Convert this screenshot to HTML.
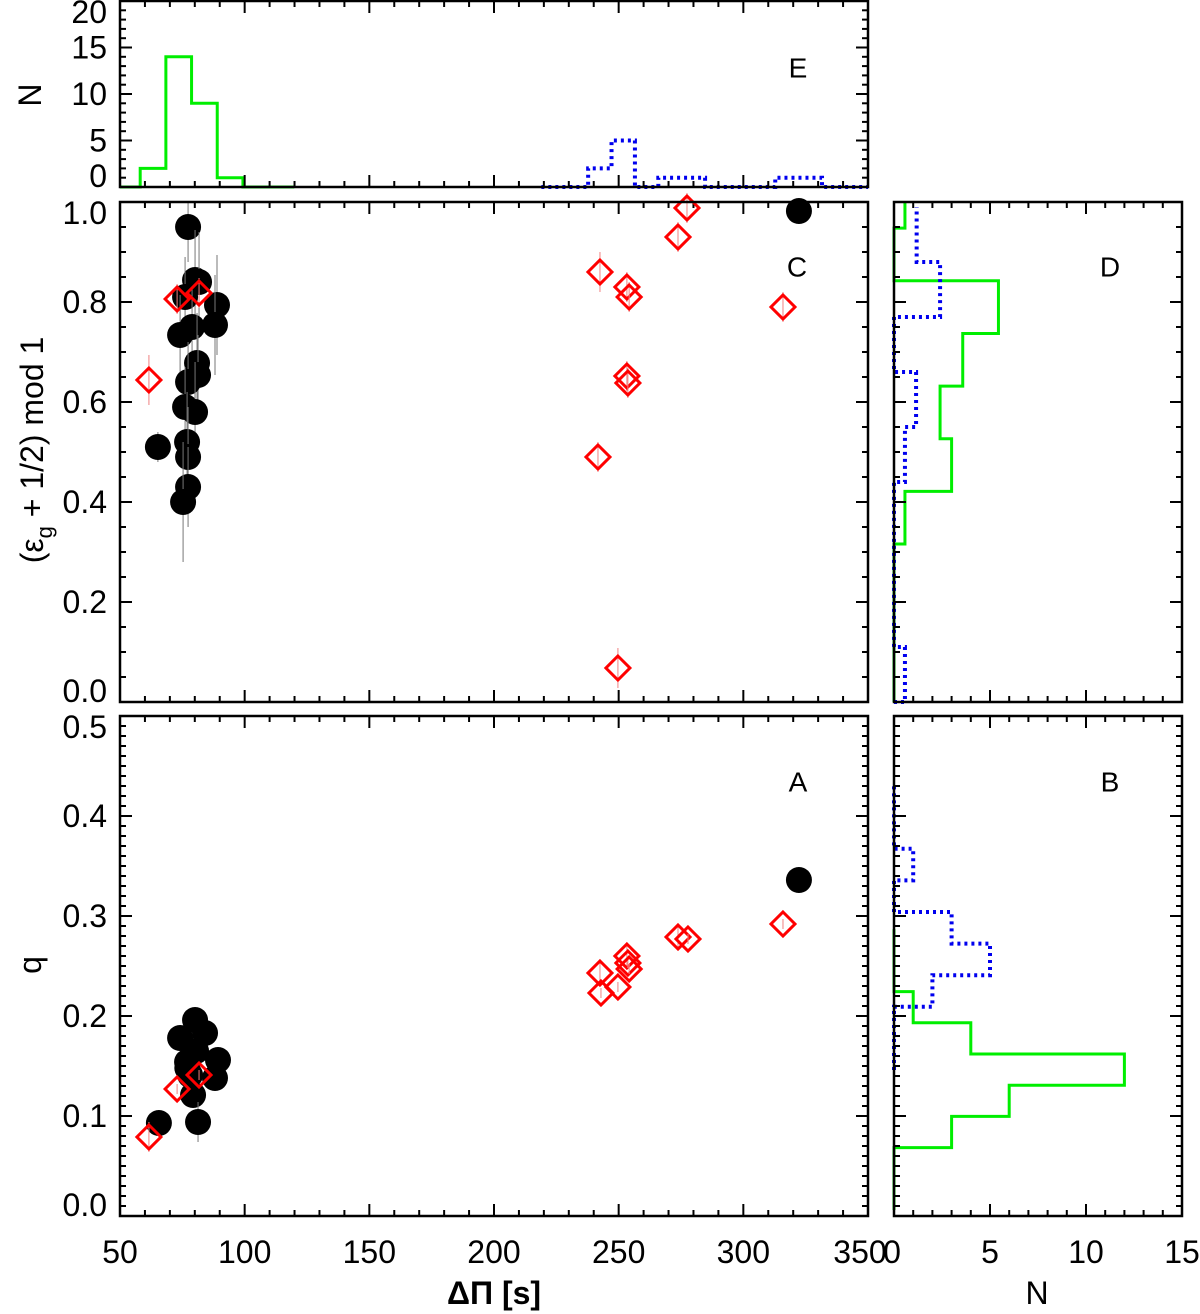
<!DOCTYPE html>
<html><head><meta charset="utf-8"><style>
html,body{margin:0;padding:0;background:#fff;}
svg{display:block;font-family:"Liberation Sans",sans-serif;}
</style></head><body>
<svg id="c" width="1200" height="1314" viewBox="0 0 1200 1314" xmlns="http://www.w3.org/2000/svg"></svg>
<script>
// ---- data ----
const blackCX=[77.3,80.1,81.7,76.1,88.9,88.1,78.9,74.1,80.9,81.3,77.3,76.1,80.1,65.2,76.9,77.3,77.3,75.3,322.3];
const blackCY=[0.950,0.844,0.840,0.810,0.794,0.754,0.750,0.734,0.678,0.654,0.640,0.590,0.580,0.510,0.520,0.490,0.430,0.400,0.982];
const blackCErr=[0.07,0.10,0.10,0.08,0.10,0.10,0.08,0.08,0.10,0.08,0.08,0.08,0.10,0.03,0.10,0.10,0.08,0.12,0.02];
const redCX=[72.9,81.7,61.6,242.5,253.3,254.2,253.3,253.7,241.7,249.7,273.8,277.4,315.9];
const redCY=[0.806,0.818,0.644,0.860,0.830,0.810,0.652,0.638,0.490,0.068,0.930,0.988,0.790];
const redCErr=[0.03,0.03,0.05,0.04,0.03,0.03,0.03,0.03,0.03,0.04,0.03,0.03,0.03];
const blackAX=[80.1,84.1,74.1,89.3,88.1,76.9,78.1,79.3,81.3,65.6,322.3,80.5,77];
const blackAY=[0.196,0.183,0.178,0.156,0.138,0.154,0.141,0.121,0.094,0.093,0.336,0.165,0.148];
const blackAErr=[0.01,0.01,0.01,0.01,0.01,0.01,0.01,0.01,0.02,0.01,0.01,0.01,0.01];
const redAX=[72.9,81.7,61.6,242.5,242.9,249.7,253.3,253.7,254.2,273.8,277.8,315.9];
const redAY=[0.127,0.141,0.079,0.243,0.223,0.229,0.260,0.253,0.247,0.279,0.277,0.292];
const redAErr=[0.005,0.005,0.015,0.01,0.005,0.005,0.01,0.005,0.005,0.01,0.005,0.005];
// histogram E (x = ΔΠ)
const greenEStart=47.8, greenEWidth=10.3;
const greenECounts=[0,2,14,9,1,0,0];
const blueEStart=219, blueEWidth=9.38;
const blueECounts=[0,0,2,5,0,1,1,0,0,0,1,1,0,0];
// histogram D (y = eps)
const greenDStart=0, greenDWidth=0.1053;
const greenDCounts=[0,0,0,0.57,3.0,2.4,3.58,5.44,0,0.57];
const blueDStart=0, blueDWidth=0.11;
const blueDCounts=[0.57,0,0,0,0.57,1.15,0,2.4,1.18];
// histogram B (y = q)
const greenBStart=0.006, greenBWidth=0.0312;
const greenBCounts=[0,0,3,6,12,4,1,0,0];
const blueBStart=0.146, blueBWidth=0.0316;
const blueBCounts=[0,0,2,5,3,0,1,0,0];
const xTicks=[50,100,150,200,250,300,350];
const nTicks=[0,5,10,15];

// ---- layout ----
const NS="http://www.w3.org/2000/svg";
const svg=document.getElementById('c');
const L=120,R=868,RL=894,RR=1182;
const E={t:1,b:187},C={t:202,b:702},A={t:716,b:1216};
const sx=v=>L+(v-50)*(R-L)/300;
const snx=v=>RL+v*(RR-RL)/15;
const syE=v=>E.b-v*(E.b-E.t)/20;
const syC=v=>C.b-v*(C.b-C.t);
const syA=v=>A.b-v*(A.b-A.t)/0.5;
function el(tag,attrs,parent){const e=document.createElementNS(NS,tag);for(const k in attrs)e.setAttribute(k,attrs[k]);(parent||svg).appendChild(e);return e;}
function text(x,y,s,opts){const t=el('text',Object.assign({x:x,y:y,'font-size':32,fill:'#000','text-anchor':'middle','dominant-baseline':'central'},opts||{}));t.textContent=s;return t;}
function g(name){const e=el('g',{});return e;}

function frame(name,x0,x1,y0,y1){const f=el('rect',{x:x0,y:y0,width:x1-x0,height:y1-y0,fill:'none',stroke:'#000','stroke-width':2.5});}
function xticks(grp,x0,x1,y0,y1,min,max,maj,mnr,fx){
  for(let v=min;v<=max+1e-9;v+=mnr){const x=fx(v);const isM=Math.abs(v/maj-Math.round(v/maj))<1e-6;const len=isM?12:6;
    el('line',{x1:x,x2:x,y1:y1,y2:y1-len,stroke:'#000','stroke-width':2},grp);
    el('line',{x1:x,x2:x,y1:y0,y2:y0+len,stroke:'#000','stroke-width':2},grp);}
}
function yticks(grp,x0,x1,min,max,maj,mnr,fy){
  for(let v=min;v<=max+1e-9;v+=mnr){const y=fy(v);const isM=Math.abs(v/maj-Math.round(v/maj))<1e-6;const len=isM?12:6;
    el('line',{x1:x0,x2:x0+len,y1:y,y2:y,stroke:'#000','stroke-width':2},grp);
    el('line',{x1:x1,x2:x1-len,y1:y,y2:y,stroke:'#000','stroke-width':2},grp);}
}
function ylabels(grp,vals,fy,fmt,t,b){vals.forEach(v=>{let y=fy(v);y=Math.max(t+11,Math.min(b-11,y));const tx=text(107,y,fmt(v),{'text-anchor':'end'});grp.appendChild(tx);});}

function stepX(grp,start,w,counts,fx,fy,color,dash,name){
  let d='M'+fx(Math.max(start,50))+','+fy(0);
  counts.forEach((c,i)=>{let a=start+i*w,b=start+(i+1)*w;a=Math.max(a,50);b=Math.min(b,350);d+=' L'+fx(a)+','+fy(c)+' L'+fx(b)+','+fy(c);});
  const p=el('path',{d:d,fill:'none',stroke:color,'stroke-width':dash?4:3,'stroke-dasharray':dash||'none'},grp);
  
}
function stepY(grp,start,w,counts,fy,maxv,color,dash,name){
  let d='M'+snx(0)+','+fy(start);
  counts.forEach((c,i)=>{let a=start+i*w,b=Math.min(start+(i+1)*w,maxv);d+=' L'+snx(c)+','+fy(a)+' L'+snx(c)+','+fy(b);});
  const p=el('path',{d:d,fill:'none',stroke:color,'stroke-width':dash?4:3,'stroke-dasharray':dash||'none'},grp);
  
}
function circles(grp,xs,ys,errs,fy,lo,hi,name){
  xs.forEach((x,i)=>{const cx=sx(x),cy=fy(ys[i]);
    el('line',{x1:cx,x2:cx,y1:fy(Math.max(lo,ys[i]-errs[i])),y2:fy(Math.min(hi,ys[i]+errs[i])),stroke:'#777','stroke-width':1},grp);
    const c=el('circle',{cx:cx,cy:cy,r:13,fill:'#000'},grp);
    });
}
function diamonds(grp,xs,ys,errs,fy,name){
  xs.forEach((x,i)=>{const cx=sx(x),cy=fy(ys[i]),h=12;
    el('line',{x1:cx,x2:cx,y1:fy(ys[i]-errs[i]),y2:fy(ys[i]+errs[i]),stroke:'#f08080','stroke-width':1},grp);
    const p=el('polygon',{points:`${cx},${cy-h} ${cx+h},${cy} ${cx},${cy+h} ${cx-h},${cy}`,fill:'none',stroke:'#f00','stroke-width':3},grp);
    });
}

// ---- Panel E ----
const gE=g('panel-e');
stepX(gE,greenEStart,greenEWidth,greenECounts,sx,syE,'#00ee00',null,'green-histogram-e');
stepX(gE,blueEStart,blueEWidth,blueECounts,sx,syE,'#0000ee','3 4','blue-histogram-e');
xticks(gE,L,R,E.t,E.b,50,350,50,10,sx);
yticks(gE,L,R,0,20,5,1,syE);
frame('panel-e-frame',L,R,E.t,E.b);
ylabels(gE,[0,5,10,15,20],syE,v=>String(v),E.t,E.b);
const tE=text(798,68,'E',{'font-size':28});
const nE=text(30,95,'N',{transform:'rotate(-90 30 95)'});

// ---- Panel C ----
const gC=g('panel-c');
xticks(gC,L,R,C.t,C.b,50,350,50,10,sx);
yticks(gC,L,R,0,1,0.2,0.05,syC);
frame('panel-c-frame',L,R,C.t,C.b);
circles(gC,blackCX,blackCY,blackCErr,syC,0,1,'black-point-c');
diamonds(gC,redCX,redCY,redCErr,syC,'red-diamond-c');
ylabels(gC,[0,0.2,0.4,0.6,0.8,1.0],syC,v=>v.toFixed(1),C.t,C.b);
const tC=text(797,267,'C',{'font-size':28});
const yt=el('text',{x:0,y:0,'font-size':32,'text-anchor':'middle','dominant-baseline':'central',transform:'translate(32 450) rotate(-90)'});

yt.innerHTML='(ε<tspan font-size="22" dy="12">g</tspan><tspan dy="-12"> + 1/2) mod 1</tspan>';

// ---- Panel A ----
const gA=g('panel-a');
xticks(gA,L,R,A.t,A.b,50,350,50,10,sx);
yticks(gA,L,R,0,0.5,0.1,0.01,syA);
frame('panel-a-frame',L,R,A.t,A.b);
circles(gA,blackAX,blackAY,blackAErr,syA,0,0.5,'black-point-a');
diamonds(gA,redAX,redAY,redAErr,syA,'red-diamond-a');
ylabels(gA,[0,0.1,0.2,0.3,0.4,0.5],syA,v=>v.toFixed(1),A.t,A.b);
const tA=text(798,782,'A',{'font-size':28});
const qT=text(30,965,'q',{transform:'rotate(-90 30 965)'});
xTicks.forEach(v=>{const t=text(sx(v)-(v===350?8:0),1252,String(v));});
const xT=text(494,1293,'ΔΠ [s]',{'font-weight':'bold'});

// ---- Panel D ----
const gD=g('panel-d');
stepY(gD,greenDStart,greenDWidth,greenDCounts,syC,1.0,'#00ee00',null,'green-histogram-d');
stepY(gD,blueDStart,blueDWidth,blueDCounts,syC,1.0,'#0000ee','3 4','blue-histogram-d');
xticks(gD,RL,RR,C.t,C.b,0,15,5,1,snx);
yticks(gD,RL,RR,0,1,0.2,0.05,syC);
frame('panel-d-frame',RL,RR,C.t,C.b);
const tD=text(1110,267,'D',{'font-size':28});

// ---- Panel B ----
const gB=g('panel-b');
stepY(gB,greenBStart,greenBWidth,greenBCounts,syA,0.5,'#00ee00',null,'green-histogram-b');
stepY(gB,blueBStart,blueBWidth,blueBCounts,syA,0.5,'#0000ee','3 4','blue-histogram-b');
xticks(gB,RL,RR,A.t,A.b,0,15,5,1,snx);
yticks(gB,RL,RR,0,0.5,0.1,0.01,syA);
frame('panel-b-frame',RL,RR,A.t,A.b);
const tB=text(1110,782,'B',{'font-size':28});
nTicks.forEach(v=>{const t=text(snx(v)-(v===0?2:0),1252,String(v));});
const nB=text(1037,1293,'N');
</script>
</body></html>
